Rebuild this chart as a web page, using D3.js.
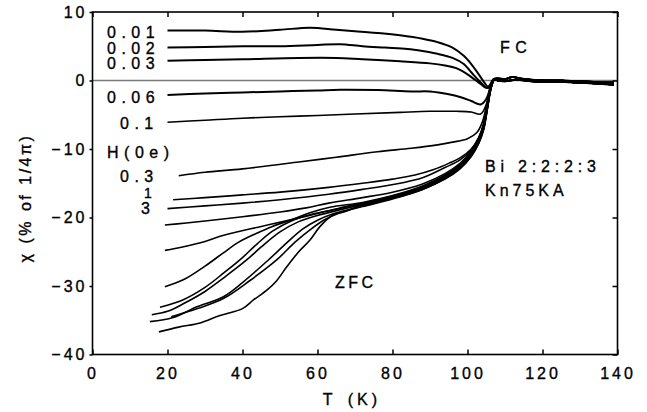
<!DOCTYPE html>
<html>
<head>
<meta charset="utf-8">
<script src="https://cdn.jsdelivr.net/npm/d3@7"></script>
<style>
  html, body { margin: 0; padding: 0; background: #fff; }
  svg { display: block; font-family: 'Liberation Sans', Arial, sans-serif; }
  text { fill: #000; stroke: #000; stroke-width: 0.35px; }
</style>
</head>
<body>
<svg width="647" height="412"></svg>
<script>
// axis ticks
const xTicks = [0, 20, 40, 60, 80, 100, 120, 140]
const yTicks = [10, 0, -10, -20, -30, -40]

// field labels (Oe), FC curves in the same order
const fields = ['0.01', '0.02', '0.03', '0.06', '0.1', '0.3', '1', '3']

// above Tc, the curves run together near zero
const tailA = [[108, 0.3], [110, 0.2], [112, 0.5], [114, 0.3], [117, 0.1], [121, 0.0], [125, 0.0], [129, -0.1], [133, -0.2], [136, -0.3], [139, -0.3]]
const tailB = [[108, 0.0], [110, -0.1], [113, 0.1], [117, -0.1], [121, -0.2], [125, -0.2], [129, -0.3], [133, -0.4], [136, -0.5], [139, -0.6]]

// field cooled
const fc001 = [[20, 7.3], [30, 7.3], [40, 7.1], [50, 7.4], [58, 7.7], [65, 7.4], [70, 7.2], [77, 6.9], [82, 6.6], [88, 6.1], [92, 5.6], [96, 4.8], [99, 3.6], [101, 2.4], [103, 0.9], [104.5, -0.3], [105.5, -0.9], [106.3, -0.4], [107, 0.2]]
const fc002 = [[20, 4.8], [30, 4.9], [40, 5.0], [50, 5.0], [60, 5.2], [66, 5.3], [72, 5.0], [78, 4.8], [84, 4.6], [88, 4.3], [92, 3.9], [96, 3.3], [99, 2.4], [101, 1.2], [103, 0.0], [104.5, -0.8], [105.5, -1.1], [106.3, -0.4], [107, 0.2]]
const fc003 = [[20, 2.9], [30, 3.0], [40, 3.1], [55, 3.3], [65, 3.3], [72, 3.1], [82, 2.8], [90, 2.5], [94, 2.2], [97, 1.8], [100, 0.9], [102, 0.1], [103.5, -0.5], [105, -1.1], [106, -0.7], [107, 0.2]]
const fc006 = [[20, -2.1], [30, -1.9], [40, -1.75], [50, -1.6], [60, -1.45], [66, -1.35], [76, -1.4], [85, -1.6], [90, -1.6], [95, -2.0], [98, -2.4], [101, -3.0], [103.5, -3.5], [105, -2.7], [106, -1.2], [107, 0.2]]
const fc01 = [[20, -6.1], [30, -5.8], [40, -5.5], [55, -5.2], [70, -4.9], [82, -4.65], [90, -4.5], [97, -4.5], [101, -4.6], [103.5, -4.9], [105, -3.5], [106, -1.2], [107, 0.2]]
const fc03 = [[23, -13.9], [30, -13.4], [40, -12.9], [55, -11.9], [65, -11.2], [76, -10.4], [85, -9.9], [92, -9.4], [96, -9.0], [100, -8.5], [102.5, -7.6], [104, -6.0], [105.3, -3.0], [106.5, -0.4], [107.3, 0.2]]
const fc1 = [[21.5, -17.4], [30, -17.1], [40, -16.7], [50, -16.3], [63, -15.6], [72, -15.0], [80, -14.4], [86, -13.8], [91, -13.0], [95, -12.1], [98, -11.3], [101, -10.0], [103, -8.3], [104.3, -6.3], [105.3, -3.5], [106.3, -0.8], [107.2, 0.2]]
const fc3 = [[20, -18.7], [30, -18.3], [40, -17.9], [50, -17.4], [63, -16.6], [72, -15.9], [82, -15.0], [88, -14.2], [94, -12.7], [98, -11.6], [101, -10.1], [103, -8.4], [104.3, -6.4], [105.3, -3.6], [106.3, -0.8], [107.2, 0.2]]

// zero field cooled
const zfc1 = [[19.3, -21.1], [25, -20.8], [30, -20.5], [40, -19.9], [50, -19.2], [57, -18.6], [63, -17.9], [72, -17.1], [80, -16.3], [88, -15.1], [94, -13.6], [98, -12.1], [101, -10.3], [103, -8.4], [104.3, -6.4], [105.3, -3.7], [106.3, -0.9], [107.2, 0.2]]
const zfc2 = [[19.3, -24.8], [24, -24.3], [30, -23.5], [35, -22.6], [45, -21.3], [54, -20.2], [60, -19.4], [66, -18.6], [72, -17.9], [80, -16.9], [88, -15.5], [94, -13.9], [98, -12.4], [101, -10.6], [103, -8.7], [104.3, -6.7], [105.3, -3.9], [106.3, -1.0], [107.2, 0.2]]
const zfc3 = [[19.3, -30.1], [24.2, -29.1], [30, -27.1], [34.8, -25.2], [39, -23.6], [43.8, -22.3], [48, -21.3], [52.7, -20.4], [58, -19.3], [63.3, -18.5], [72, -17.8], [80, -16.8], [88, -15.4], [94, -13.8], [98, -12.3], [101, -10.5], [103, -8.6], [104.3, -6.6], [105.3, -3.8], [106.3, -0.9], [107.2, 0.2]]
const zfc4 = [[18, -33.1], [24.2, -32.0], [30, -30.2], [35, -28.1], [39.3, -26.2], [44, -23.8], [48, -22.0], [53, -20.5], [58, -19.6], [64, -18.9], [72, -18.0], [80, -17.0], [88, -15.6], [94, -14.0], [98, -12.5], [101, -10.7], [103, -8.8], [104.3, -6.8], [105.3, -3.9], [106.3, -1.0], [107.2, 0.2]]
const zfc5 = [[15.8, -34.2], [20, -33.7], [24.2, -32.6], [30, -30.8], [35, -28.8], [41.1, -26.2], [45, -24.3], [50, -22.1], [55, -20.6], [60, -19.7], [65, -19.0], [72, -18.1], [80, -17.1], [88, -15.7], [94, -14.1], [98, -12.6], [101, -10.8], [103, -8.9], [104.3, -6.9], [105.3, -4.0], [106.3, -1.0], [107.2, 0.2]]
const zfc6 = [[15.3, -35.2], [21.5, -34.6], [28, -33.0], [34.8, -31.6], [40, -29.5], [46.9, -26.2], [52, -23.6], [56, -21.7], [60, -20.4], [64, -19.5], [68, -18.9], [74, -18.0], [80, -17.2], [88, -15.8], [94, -14.2], [98, -12.7], [101, -10.9], [103, -9.0], [104.3, -7.0], [105.3, -4.0], [106.3, -1.0], [107.2, 0.2]]
const zfc7 = [[21, -34.5], [28, -33.3], [35, -31.8], [42, -29.2], [49.1, -26.2], [54, -23.6], [58, -21.8], [62, -20.3], [66, -19.3], [72, -18.4], [80, -17.3], [88, -15.9], [94, -14.3], [98, -12.8], [101, -11.0], [103, -9.1], [104.3, -7.1], [105.3, -4.1], [106.3, -1.1], [107.2, 0.2]]
const zfc8 = [[17.7, -36.7], [23, -36.0], [28.7, -35.4], [34, -34.3], [40, -33.3], [43, -32.0], [46.5, -30.6], [49, -29.3], [51.8, -27.2], [55, -25.0], [58, -23.3], [60.7, -21.3], [64.2, -19.6], [67, -19.2], [71.3, -18.3], [76, -17.7], [80, -17.2], [88, -15.9], [94, -14.4], [98, -12.9], [101, -11.1], [103, -9.2], [104.3, -7.2], [105.3, -4.2], [106.3, -1.1], [107.2, 0.2]]

const fcCurves = [fc001, fc002, fc003, fc006, fc01, fc03, fc1, fc3]
const zfcCurves = [zfc1, zfc2, zfc3, zfc4, zfc5, zfc6, zfc7, zfc8]

const svg = d3.select('svg')

const margin = { top: 12, right: 29.5, bottom: 57.5, left: 92.5 },
    width = +svg.attr('width') - margin.left - margin.right,
    height = +svg.attr('height') - margin.top - margin.bottom

const chart = svg.append('g')
    .attr('transform', `translate(${margin.left},${margin.top})`)

const x = d3.scaleLinear().domain([0, 140]).range([0, width])
const y = d3.scaleLinear().domain([-40, 10]).range([height, 0])

const line = d3.line()
    .x(d => x(d[0]))
    .y(d => y(d[1]))
    .curve(d3.curveCatmullRom.alpha(0.5))

//zero line
chart.append('line')
    .attr('x1', x(0)).attr('x2', x(140))
    .attr('y1', y(0)).attr('y2', y(0))
    .attr('stroke', '#7a7a7a')
    .attr('stroke-width', 1.3)

//curves
chart.selectAll('.fc')
    .data(fcCurves)
    .enter().append('path')
    .attr('class', 'fc')
    .attr('d', (d, i) => line(d.concat(i % 2 ? tailA : tailB)))
    .attr('fill', 'none')
    .attr('stroke', '#000')
    .attr('stroke-width', (d, i) => i < 4 ? 2 : 1.6)
    .attr('stroke-linejoin', 'round')

chart.selectAll('.zfc')
    .data(zfcCurves)
    .enter().append('path')
    .attr('class', 'zfc')
    .attr('d', (d, i) => line(d.concat(i % 2 ? tailB : tailA)))
    .attr('fill', 'none')
    .attr('stroke', '#000')
    .attr('stroke-width', 1.6)
    .attr('stroke-linejoin', 'round')

//frame and ticks
chart.append('rect')
    .attr('width', width)
    .attr('height', height)
    .attr('fill', 'none')
    .attr('stroke', '#000')
    .attr('stroke-width', 1.6)

chart.append('g')
    .attr('transform', `translate(0,${height})`)
    .call(d3.axisBottom(x).tickValues(xTicks).tickSize(-5).tickPadding(13))
chart.append('g')
    .call(d3.axisTop(x).tickValues(xTicks).tickSize(-5).tickFormat(''))
chart.append('g')
    .call(d3.axisLeft(y).tickValues(yTicks).tickSize(3).tickPadding(2))
chart.append('g')
    .attr('transform', `translate(${width},0)`)
    .call(d3.axisRight(y).tickValues(yTicks).tickSize(-5).tickFormat(''))

chart.selectAll('.domain').remove()
chart.selectAll('.tick line').attr('stroke', '#000').attr('stroke-width', 1.5)
chart.selectAll('.tick text')
    .attr('fill', '#000')
    .style('font-family', "'Liberation Sans', Arial, sans-serif")
    .style('font-size', '16px')
    .style('letter-spacing', '3px')

//labels
const label = (txt, px, py, spacing, anchor) => svg.append('text')
    .text(txt)
    .attr('x', px)
    .attr('y', py)
    .attr('text-anchor', anchor || 'start')
    .style('font-size', '16px')
    .style('letter-spacing', spacing + 'px')

const fieldPos = [[107, 37.5], [107, 53.5], [107, 69], [107, 102.5], [120, 129], [120, 181.5], [144, 198], [141, 214]]
fields.forEach((f, i) => {
    const t = label(f, fieldPos[i][0], fieldPos[i][1], 5.5)
    if (f === '1') t.style('font-size', '14px')
})
label('H(0e)', 107, 157.5, 5.5)

label('FC', 500, 53, 5.5)
label('ZFC', 335, 288, 3.5)
label('Bi 2:2:2:3', 485, 172, 4.8)
label('Kn75KA', 485, 196, 4)

label('T (K)', 352, 405, 4, 'middle').style('word-spacing', '3px')

svg.append('text')
    .text('χ (% of 1/4π)')
    .attr('transform', 'translate(31,198) rotate(-90)')
    .attr('text-anchor', 'middle')
    .style('font-size', '16px')
    .style('letter-spacing', '2.5px')
    .style('word-spacing', '1px')
</script>
</body>
</html>
